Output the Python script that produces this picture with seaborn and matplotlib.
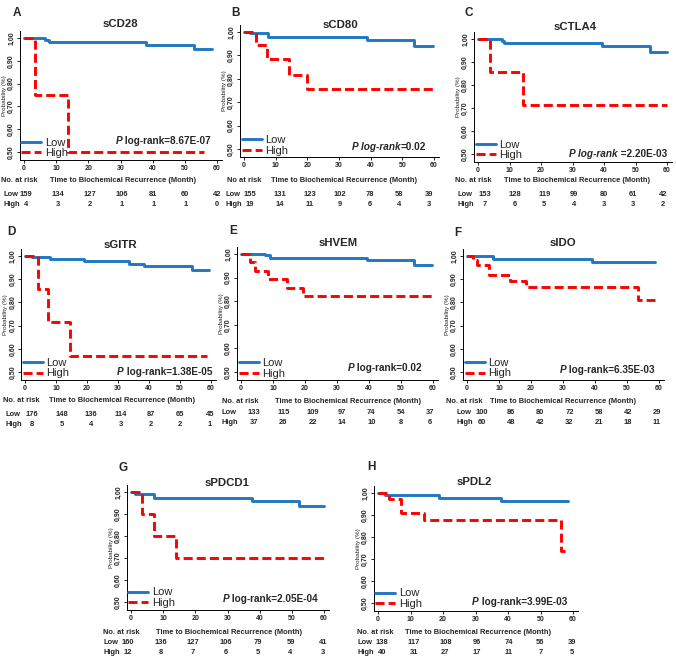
import numpy as np
import pandas as pd
import seaborn as sns
import matplotlib.pyplot as plt

W, H = 676, 658

markers = ["sCD28", "sCD80", "sCTLA4", "sGITR", "sHVEM", "sIDO", "sPDCD1", "sPDL2"]
letters = ["A", "B", "C", "D", "E", "F", "G", "H"]

# Kaplan-Meier steps: month of each step and probability after it
low_time = {
    "sCD28": [0, 6.4, 7.8, 38, 53, 58.5],
    "sCD80": [0, 1.9, 7.7, 38.8, 53.8, 59.8],
    "sCTLA4": [0, 7.5, 8.3, 39.4, 54.7, 60],
    "sGITR": [0, 2.2, 8.1, 18.9, 33.4, 38.3, 53.9, 59.4],
    "sHVEM": [0, 7.6, 9.1, 39.3, 54.1, 59.7],
    "sIDO": [0, 8.1, 39.2, 58.6],
    "sPDCD1": [0, 1.3, 7.0, 37.5, 52.3, 60],
    "sPDL2": [0, 2.0, 18.8, 37.9, 58.5],
}
low_surv = {
    "sCD28": [1, 0.992, 0.982, 0.970, 0.953, 0.953],
    "sCD80": [1, 0.994, 0.979, 0.965, 0.942, 0.942],
    "sCTLA4": [1, 0.99, 0.983, 0.968, 0.944, 0.944],
    "sGITR": [1, 0.996, 0.986, 0.977, 0.967, 0.956, 0.939, 0.939],
    "sHVEM": [1, 0.994, 0.985, 0.975, 0.955, 0.955],
    "sIDO": [1, 0.988, 0.975, 0.975],
    "sPDCD1": [1, 0.991, 0.973, 0.959, 0.935, 0.935],
    "sPDL2": [1, 0.989, 0.977, 0.964, 0.964],
}
high_time = {
    "sCD28": [0, 3.5, 13.7, 56],
    "sCD80": [0, 3.7, 7.4, 14.3, 19.8, 59.8],
    "sCTLA4": [0, 3.9, 14.2, 60],
    "sGITR": [0, 4.1, 7.5, 14.5, 58.7],
    "sHVEM": [0, 2.7, 4.3, 8.4, 14.3, 19.5, 59.7],
    "sIDO": [0, 1.9, 3.2, 6.8, 13.3, 18.5, 53.4, 58.6],
    "sPDCD1": [0, 3.4, 7.0, 14.1, 60],
    "sPDL2": [0, 3.4, 7.2, 14.2, 56.4, 57.4],
}
high_surv = {
    "sCD28": [1, 0.75, 0.5, 0.5],
    "sCD80": [1, 0.945, 0.885, 0.818, 0.758, 0.758],
    "sCTLA4": [1, 0.857, 0.714, 0.714],
    "sGITR": [1, 0.857, 0.714, 0.571, 0.571],
    "sHVEM": [1, 0.965, 0.93, 0.893, 0.858, 0.822, 0.822],
    "sIDO": [1, 0.981, 0.96, 0.916, 0.891, 0.868, 0.81, 0.81],
    "sPDCD1": [1, 0.9, 0.8, 0.7, 0.7],
    "sPDL2": [1, 0.975, 0.91, 0.877, 0.737, 0.737],
}

# numbers at risk at 0, 10, ..., 60 months
risk_low = {
    "sCD28": [159, 134, 127, 106, 81, 60, 42],
    "sCD80": [155, 131, 123, 102, 78, 58, 39],
    "sCTLA4": [153, 128, 119, 99, 80, 61, 42],
    "sGITR": [176, 148, 136, 114, 87, 65, 45],
    "sHVEM": [133, 115, 109, 97, 74, 54, 37],
    "sIDO": [100, 86, 80, 72, 58, 42, 29],
    "sPDCD1": [160, 136, 127, 106, 79, 59, 41],
    "sPDL2": [138, 117, 108, 96, 74, 56, 39],
}
risk_high = {
    "sCD28": [4, 3, 2, 1, 1, 1, 0],
    "sCD80": [19, 14, 11, 9, 6, 4, 3],
    "sCTLA4": [7, 6, 5, 4, 3, 3, 2],
    "sGITR": [8, 5, 4, 3, 2, 2, 1],
    "sHVEM": [37, 26, 22, 14, 10, 8, 6],
    "sIDO": [60, 48, 42, 32, 21, 18, 11],
    "sPDCD1": [12, 8, 7, 6, 5, 4, 3],
    "sPDL2": [40, 31, 27, 17, 11, 7, 5],
}
p_italic = {"sCD28": "P", "sCD80": "P log-rank", "sCTLA4": "P log-rank", "sGITR": "P",
            "sHVEM": "P", "sIDO": "P", "sPDCD1": "P", "sPDL2": "P"}
p_rest = {"sCD28": " log-rank=8.67E-07", "sCD80": "=0.02", "sCTLA4": " =2.20E-03",
          "sGITR": " log-rank=1.38E-05", "sHVEM": " log-rank=0.02", "sIDO": " log-rank=6.35E-03",
          "sPDCD1": " log-rank=2.05E-04", "sPDL2": " log-rank=3.99E-03"}
risk_header = {"sCD80": "No at risk"}

xticks = [0, 10, 20, 30, 40, 50, 60]
ytick_vals = [0.5, 0.6, 0.7, 0.8, 0.9, 1.0]
ytick_labels = ["0,50", "0,60", "0,70", "0,80", "0,90", "1,00"]

BLUE = "#1f78c1"
RED = "#ff0000"
XLIM = (-1.3, 61.5)
YLIM = (0.465, 1.03)
TAB = 5.4

# pixel layout: x of 0 / 60 months, y of 1.0 / 0.5, title, letter, risk numbers span,
# row label x, header x, x-label centre, table rows y, p text right end / y
layout = {
    "sCD28": dict(ax=(24, 217, 38, 152), title=(120, 24), letter=(17, 13), nums=(26, 217),
                  row=3, head=1, lab=123, rows=(181, 194, 205), p=(211, 141)),
    "sCD80": dict(ax=(244, 434, 32, 149), title=(340, 25), letter=(236, 13), nums=(250, 429),
                  row=226, head=227, lab=344, rows=(181, 194, 205), p=(426, 147)),
    "sCTLA4": dict(ax=(478, 667, 39, 154), title=(575, 27), letter=(469, 13), nums=(485, 663),
                   row=458, head=455, lab=577, rows=(181, 194, 205), p=(667, 154)),
    "sGITR": dict(ax=(25, 211, 256, 372), title=(120, 245), letter=(11, 232), nums=(32, 210),
                  row=5, head=3, lab=122, rows=(401, 414, 424), p=(212, 372)),
    "sHVEM": dict(ax=(241, 433, 254, 372), title=(338, 243), letter=(233, 231), nums=(254, 430),
                  row=222, head=222, lab=348, rows=(402, 413, 423), p=(422, 368)),
    "sIDO": dict(ax=(467, 659, 256, 372), title=(563, 243), letter=(458, 233), nums=(482, 657),
                 row=457, head=446, lab=563, rows=(402, 413, 423), p=(655, 370)),
    "sPDCD1": dict(ax=(131, 324, 492, 602), title=(227, 483), letter=(123, 468), nums=(128, 323),
                   row=103, head=103, lab=229, rows=(633, 643, 652), p=(318, 599)),
    "sPDL2": dict(ax=(378, 573, 493, 603), title=(474, 482), letter=(371, 467), nums=(382, 572),
                  row=357, head=357, lab=478, rows=(633, 643, 652), p=(567, 602)),
}

sns.set_style("white")
plt.rcParams["font.family"] = ["Liberation Sans", "DejaVu Sans"]

fig = plt.figure(figsize=(W / 100, H / 100), dpi=100)


def fx(px):
    return px / W


def fy(py):
    return 1 - py / H


def place_axes(x0, x60, y1, y05):
    sx = (x60 - x0) / 60
    sy = (y05 - y1) / 0.5
    left = x0 + XLIM[0] * sx
    right = x0 + XLIM[1] * sx
    top = y1 - (YLIM[1] - 1) * sy
    bottom = y1 + (1 - YLIM[0]) * sy
    return fig.add_axes([fx(left), fy(bottom), (right - left) / W, (bottom - top) / H])


for m, letter in zip(markers, letters):
    L = layout[m]
    ax = place_axes(*L["ax"])

    low = pd.DataFrame({"Month": low_time[m], "Prob": low_surv[m]})
    high = pd.DataFrame({"Month": high_time[m], "Prob": high_surv[m]})
    sns.lineplot(data=low, x="Month", y="Prob", ax=ax, estimator=None, sort=False,
                 drawstyle="steps-post", color=BLUE, lw=2.1, label="Low")
    sns.lineplot(data=high, x="Month", y="Prob", ax=ax, estimator=None, sort=False,
                 drawstyle="steps-post", color=RED, lw=2.1, linestyle=(0, (3.1, 1.4)),
                 label="High")

    ax.set_xlim(*XLIM)
    ax.set_ylim(*YLIM)
    ax.set_xticks(xticks)
    ax.set_xticklabels([str(t) for t in xticks], fontsize=5.0, fontweight="bold")
    ax.set_yticks(ytick_vals)
    ax.set_yticklabels(ytick_labels, fontsize=5.0, fontweight="bold", rotation=90, va="center")
    ax.tick_params(length=2, width=0.6, pad=1.5, color="black", direction="out",
                   bottom=True, left=True)
    ax.set_xlabel("")
    ax.set_ylabel("Probability (%)", fontsize=4.5, labelpad=1)
    sns.despine(ax=ax)
    for s in ["left", "bottom"]:
        ax.spines[s].set_color("black")
        ax.spines[s].set_linewidth(0.7)

    ax.legend(loc="lower left", bbox_to_anchor=(0.0, 0.0), frameon=False, fontsize=8,
              handlelength=1.8, handletextpad=0.3, labelspacing=0.05, borderaxespad=0,
              borderpad=0.15)

    # p value: italic part + regular part
    px, py = L["p"]
    t2 = fig.text(fx(px), fy(py), p_rest[m], ha="right", va="center", fontsize=7.2,
                  fontweight="bold")
    ax.annotate(p_italic[m], xy=(0, 0), xycoords=t2, ha="right", va="bottom", fontsize=7.2,
                fontweight="bold", fontstyle="italic", annotation_clip=False)

    fig.text(fx(L["title"][0]), fy(L["title"][1]), m, ha="center", va="center", fontsize=8.2,
             fontweight="bold")
    fig.text(fx(L["letter"][0]), fy(L["letter"][1]), letter, ha="center", va="center",
             fontsize=8.5, fontweight="bold")

    # risk table
    yh, yl, yhi = L["rows"]
    fig.text(fx(L["head"]), fy(yh), risk_header.get(m, "No. at risk"), ha="left", va="center",
             fontsize=TAB, fontweight="bold")
    fig.text(fx(L["lab"]), fy(yh), "Time to Biochemical Recurrence (Month)", ha="center",
             va="center", fontsize=TAB, fontweight="bold")
    fig.text(fx(L["row"]), fy(yl), "Low", ha="left", va="center", fontsize=TAB,
             fontweight="bold")
    fig.text(fx(L["row"]), fy(yhi), "High", ha="left", va="center", fontsize=TAB,
             fontweight="bold")
    n0, n1 = L["nums"]
    for i, (a, b) in enumerate(zip(risk_low[m], risk_high[m])):
        xp = n0 + i * (n1 - n0) / 6
        fig.text(fx(xp), fy(yl), str(a), ha="center", va="center", fontsize=TAB,
                 fontweight="bold")
        fig.text(fx(xp), fy(yhi), str(b), ha="center", va="center", fontsize=TAB,
                 fontweight="bold")

fig.savefig("out.png", dpi=100)
